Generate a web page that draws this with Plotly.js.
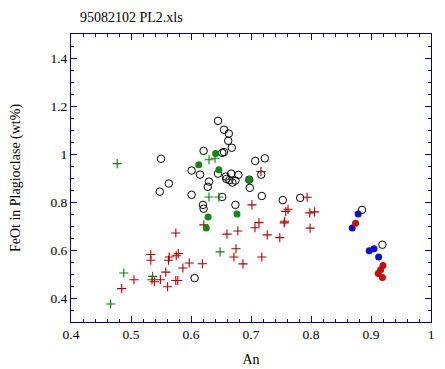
<!DOCTYPE html>
<html><head><meta charset="utf-8">
<script src="https://cdn.plot.ly/plotly-3.0.1.min.js"></script>
<style>html,body{margin:0;padding:0;background:#fff}#chart{width:445px;height:369px}</style>
</head><body><div id="chart"></div>
<script>
// Open black circles
const openX = [0.645,0.655,0.663,0.662,0.668,0.621,0.652,0.655,0.550,0.707,0.723,0.601,0.615,0.645,0.658,0.659,0.667,0.679,0.664,0.669,0.674,0.630,0.628,0.717,0.698,0.563,0.548,0.601,0.652,0.718,0.753,0.782,0.620,0.621,0.674,0.606,0.885,0.919,0.697];
const openY = [1.138,1.101,1.085,1.055,1.026,1.013,1.005,1.008,0.980,0.971,0.982,0.931,0.914,0.918,0.906,0.896,0.918,0.913,0.891,0.881,0.889,0.885,0.863,0.914,0.859,0.877,0.843,0.830,0.821,0.825,0.808,0.817,0.788,0.772,0.788,0.483,0.767,0.622,0.893];
// Green crosses
const gCrossX = [0.477,0.630,0.640,0.630,0.6465,0.6485,0.488,0.536,0.466];
const gCrossY = [0.960,0.976,0.982,0.821,0.821,0.592,0.504,0.490,0.375];
// Red crosses
const rCrossX = [0.4845,0.505,0.533,0.533,0.535,0.539,0.549,0.558,0.561,0.5637,0.5625,0.5753,0.5787,0.5747,0.5747,0.578,0.5864,0.597,0.619,0.6214,0.660,0.6715,0.675,0.678,0.6866,0.7016,0.7066,0.7133,0.7166,0.718,0.727,0.748,0.7554,0.7562,0.758,0.7617,0.7935,0.798,0.806,0.7985];
const rCrossY = [0.439,0.476,0.581,0.557,0.476,0.468,0.476,0.508,0.447,0.571,0.557,0.576,0.585,0.671,0.473,0.473,0.525,0.546,0.543,0.7045,0.666,0.571,0.605,0.679,0.542,0.788,0.693,0.714,0.927,0.571,0.663,0.6515,0.713,0.7195,0.761,0.770,0.820,0.7545,0.759,0.691];
// Green filled circles
const gDotX = [0.641,0.613,0.6465,0.6966,0.6285,0.6255,0.6766];
const gDotY = [1.002,0.955,0.934,0.893,0.738,0.692,0.750];
// Blue filled circles
const bDotX = [0.8786,0.8686,0.897,0.905,0.9127];
const bDotY = [0.750,0.692,0.597,0.6056,0.571];
// Red filled circles
const rDotX = [0.8743,0.912,0.916,0.920,0.919];
const rDotY = [0.711,0.5026,0.518,0.535,0.485];

const navy = '#000080';
const traces = [
  {x: openX, y: openY, mode:'markers', type:'scatter',
   marker:{symbol:'circle-open', size:7.5, color:'#000', line:{width:1, color:'#000'}}},
  {x: rCrossX, y: rCrossY, mode:'markers', type:'scatter',
   marker:{symbol:'cross-thin-open', size:6.5, line:{width:1.1, color:'#b00000'}, color:'#b00000'}},
  {x: gCrossX, y: gCrossY, mode:'markers', type:'scatter',
   marker:{symbol:'cross-thin-open', size:6.5, line:{width:1.1, color:'#0a7a0a'}, color:'#0a7a0a'}},
  {x: gDotX, y: gDotY, mode:'markers', type:'scatter',
   marker:{symbol:'circle', size:7, color:'#118811'}},
  {x: bDotX, y: bDotY, mode:'markers', type:'scatter',
   marker:{symbol:'circle', size:7, color:'#1010d0'}},
  {x: rDotX, y: rDotY, mode:'markers', type:'scatter',
   marker:{symbol:'circle', size:7, color:'#c01010'}}
];
const font = {family:'"Liberation Serif", "Times New Roman", serif', size:14, color:'#000'};
const tfont = {family:'"Liberation Serif", "Times New Roman", serif', size:13.5, color:'#000'};
const layout = {
  width:445, height:369,
  margin:{l:71, r:14, t:34, b:47},
  paper_bgcolor:'#fff', plot_bgcolor:'#fff',
  showlegend:false,
  font: font,
  title:{text:'95082102 PL2.xls', x:80/445, xref:'container', xanchor:'left', y:1-17/369, yref:'container', yanchor:'middle', font:font},
  xaxis:{range:[0.4,1], tick0:0.4, dtick:0.1, showgrid:false, zeroline:false,
    showline:true, linecolor:navy, linewidth:1, mirror:'allticks',
    ticks:'inside', ticklen:6, tickcolor:navy, tickwidth:1,
    minor:{dtick:0.02, ticks:'inside', ticklen:3, tickcolor:navy, showgrid:false},
    tickfont:tfont, title:{text:'An', font:font, standoff:12}},
  yaxis:{range:[0.3,1.5], tick0:0.4, dtick:0.2, showgrid:false, zeroline:false,
    showline:true, linecolor:navy, linewidth:1, mirror:'allticks',
    ticks:'inside', ticklen:6, tickcolor:navy, tickwidth:1,
    minor:{dtick:0.05, ticks:'inside', ticklen:3, tickcolor:navy, showgrid:false},
    tickfont:tfont, title:{text:'FeOt in Plagioclase (wt%)', font:font, standoff:26}}
};
Plotly.newPlot('chart', traces, layout, {displayModeBar:false, staticPlot:true});
</script></body></html>
